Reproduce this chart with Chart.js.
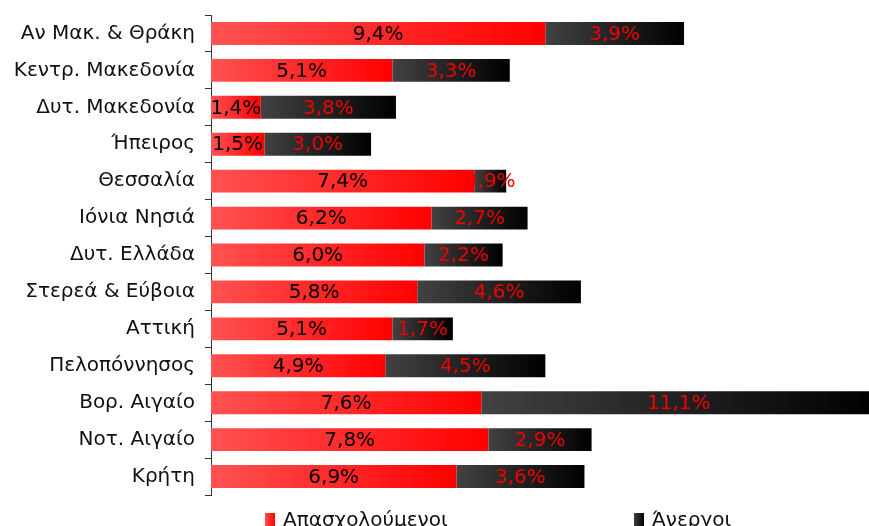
<!DOCTYPE html>
<html>
<head>
<meta charset="utf-8">
<script src="https://cdn.jsdelivr.net/npm/chart.js@4/dist/chart.umd.min.js"></script>
<style>
html, body { margin: 0; padding: 0; background: #fff; }
#wrap { position: relative; width: 869px; height: 526px; overflow: hidden; }
.item { position: absolute; top: 507px; font: 20px "DejaVu Sans", sans-serif; color: #111; white-space: nowrap; line-height: 24px; }
.box { position: absolute; left: -18px; top: 6px; width: 10px; height: 14px; }
</style>
</head>
<body>
<div id="wrap">
  <canvas id="chart"></canvas>
  <div class="item" style="left:283px"><span class="box" style="background:linear-gradient(to right,#ff5050,#ff0000)"></span>Απασχολούμενοι</div>
  <div class="item" style="left:652px"><span class="box" style="background:linear-gradient(to right,#404040,#000)"></span>Άνεργοι</div>
</div>
<script>
const regions = ['Αν Μακ. & Θράκη', 'Κεντρ. Μακεδονία', 'Δυτ. Μακεδονία', 'Ήπειρος', 'Θεσσαλία',
  'Ιόνια Νησιά', 'Δυτ. Ελλάδα', 'Στερεά & Εύβοια', 'Αττική', 'Πελοπόννησος',
  'Βορ. Αιγαίο', 'Νοτ. Αιγαίο', 'Κρήτη'];
const employed = [9.4, 5.1, 1.4, 1.5, 7.4, 6.2, 6.0, 5.8, 5.1, 4.9, 7.6, 7.8, 6.9];
const unemployed = [3.9, 3.3, 3.8, 3.0, 0.9, 2.7, 2.2, 4.6, 1.7, 4.5, 11.1, 2.9, 3.6];
const seriesNames = ['Απασχολούμενοι', 'Άνεργοι'];

const redStops = ['#ff5252', '#ff0000'];
const darkStops = ['#424242', '#000000'];
const labelColors = ['#000000', '#f00000'];

// gradient across each segment, from its own start to end
function segGradient(ctx, stops) {
    const chart = ctx.chart;
    const xs = chart.scales.x;
    if (!xs || ctx.type !== 'data') return stops[1];
    const i = ctx.dataIndex;
    const start = ctx.datasetIndex === 0 ? 0 : employed[i];
    const end = start + ctx.raw;
    const x0 = xs.getPixelForValue(start);
    const x1 = xs.getPixelForValue(end);
    if (!isFinite(x0) || !isFinite(x1) || x1 - x0 < 1) return stops[1];
    const g = chart.ctx.createLinearGradient(x0, 0, x1, 0);
    g.addColorStop(0, stops[0]);
    g.addColorStop(1, stops[1]);
    return g;
}

const valueLabels = {
    id: 'valueLabels',
    afterDatasetsDraw(chart) {
        const ctx = chart.ctx;
        ctx.save();
        ctx.font = '20px "DejaVu Sans"';
        ctx.textAlign = 'center';
        ctx.textBaseline = 'middle';
        chart.data.datasets.forEach((ds, di) => {
            chart.getDatasetMeta(di).data.forEach((bar, i) => {
                const cx = (bar.x + bar.base) / 2;
                ctx.fillStyle = labelColors[di];
                ctx.fillText(ds.data[i].toFixed(1).replace('.', ',') + '%', cx, bar.y + 1);
            });
        });
        ctx.restore();
    }
};

new Chart(document.getElementById('chart'), {
    type: 'bar',
    data: {
        labels: regions,
        datasets: [
            { label: seriesNames[0], data: employed, backgroundColor: c => segGradient(c, redStops) },
            { label: seriesNames[1], data: unemployed, backgroundColor: c => segGradient(c, darkStops) }
        ]
    },
    options: {
        indexAxis: 'y',
        responsive: true,
        maintainAspectRatio: false,
        animation: false,
        barPercentage: 0.62,
        categoryPercentage: 1,
        layout: { padding: { top: 15, bottom: 31, left: 0, right: 0 } },
        plugins: { legend: { display: false }, tooltip: { enabled: false } },
        scales: {
            x: { stacked: true, display: false, min: 0, max: 18.5 },
            y: {
                stacked: true,
                border: { color: '#333', width: 1 },
                grid: { drawOnChartArea: false, tickLength: 6, color: '#333', offset: true },
                ticks: { color: '#111', font: { family: 'DejaVu Sans', size: 20 }, padding: 10 },
                afterFit(s) {
                    s.width = 211;
                    s.paddingTop = 0;
                    s.paddingBottom = 0;
                }
            }
        }
    },
    plugins: [valueLabels]
});
</script>
</body>
</html>
